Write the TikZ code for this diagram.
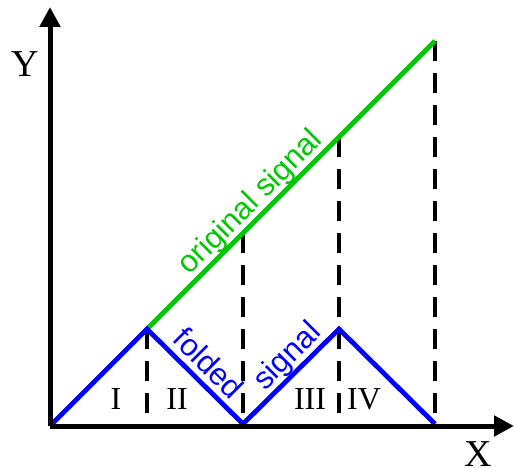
\documentclass[tikz,border=0pt]{standalone}
\usepackage{fontspec}
\setmainfont{Liberation Serif}
\setsansfont{Liberation Sans}
\usetikzlibrary{arrows.meta}
\definecolor{sigblue}{RGB}{0,0,255}
\definecolor{siggreen}{RGB}{0,200,0}
\tikzset{
  axis/.style={line width=5pt, -{Triangle[length=20pt,width=20pt]}},
  guide/.style={line width=3.2pt, dash pattern=on 20pt off 12pt},
  folded/.style={line width=4.8pt, sigblue, line join=miter},
  orig/.style={line width=4.8pt, siggreen},
  serlab/.style={font=\fontsize{38}{38}\selectfont, inner sep=0pt},
  numlab/.style={font=\fontsize{32}{32}\selectfont, inner sep=0pt},
  sanslab/.style={font=\sffamily\fontsize{31}{31}\selectfont, inner sep=0pt}
}
\begin{document}
\begin{tikzpicture}[x={(1pt,0)}, y={(0,-1pt)}]
\useasboundingbox (0,0) rectangle (515,468);
% coordinates
\coordinate (O) at (50,426);
\coordinate (Ytip) at (50,7);
\coordinate (Xtip) at (514,426);
\coordinate (A) at (147,329);
\coordinate (B) at (243,424);
\coordinate (C) at (339,329);
\coordinate (D) at (435,424);
\coordinate (G) at (435,41);
\coordinate (Ab) at (147,426);
\coordinate (Bb) at (243,426);
\coordinate (Cb) at (339,426);
\coordinate (Db) at (435,426);
\coordinate (Bg) at (243,233);
\coordinate (Cg) at (339,137);
% dashed guides
\draw[guide] (A) -- (Ab);
\draw[guide] (Bg) -- (Bb);
\draw[guide] (Cg) -- (Cb);
\draw[guide] (G) -- (Db);
% signals
\draw[orig] (A) -- (G);
\draw[folded] (O) -- (A) -- (B) -- (C) -- (D);
% axes
\draw[axis] (O) -- (Ytip);
\draw[axis] (O) -- (Xtip);
% labels
\node[serlab] (ylab) at (25,64) {Y};
\node[serlab] (xlab) at (478,454) {X};
\node[numlab] (n1) at (116,399) {I};
\node[numlab] (n2) at (177,399) {II};
\node[numlab] (n3) at (310,399) {III};
\node[numlab] (n4) at (364,399) {IV};
\node[sanslab, text=siggreen, rotate=45] (ol) at (251,203) {original signal};
\node[sanslab, text=sigblue, rotate=-45] (fl) at (209,363) {folded};
\node[sanslab, text=sigblue, rotate=45] (sl) at (288,357) {signal};
\end{tikzpicture}
\end{document}
